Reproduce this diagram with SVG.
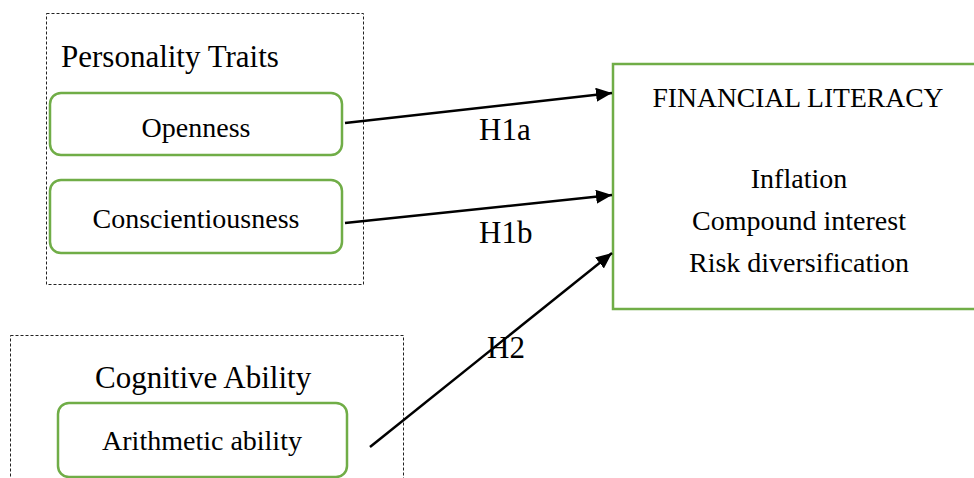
<svg xmlns="http://www.w3.org/2000/svg" width="974" height="478" viewBox="0 0 974 478">
<defs>
<marker id="arr" viewBox="0 0 16 14" refX="16" refY="7" markerWidth="16" markerHeight="14" markerUnits="userSpaceOnUse" orient="auto">
<path d="M0,0 L16,7 L0,14 z" fill="#000"/>
</marker>
<style>
.grp{fill:none;stroke:#222;stroke-width:1;stroke-dasharray:3 2}
.node{fill:#fff;stroke:#70AD47;stroke-width:2.5}
.t{font-family:"Liberation Serif","Times New Roman",serif;fill:#000}
.hdr{font-size:31px}
.in{font-size:28px;text-anchor:middle}
.lbl{font-size:31px}
.conn{stroke:#000;stroke-width:2.5;fill:none;marker-end:url(#arr)}
</style>
</defs>
<rect width="974" height="478" fill="#fff"/>
<g id="personality-traits">
<rect class="grp" x="46.5" y="13.5" width="317" height="271"/>
<text class="t hdr" x="61" y="67">Personality Traits</text>
</g>
<g id="openness">
<rect class="node" x="50" y="93" width="292" height="62" rx="11"/>
<text class="t in" x="196" y="137">Openness</text>
</g>
<g id="conscientiousness">
<rect class="node" x="50" y="180" width="292" height="73" rx="11"/>
<text class="t in" x="196" y="228">Conscientiousness</text>
</g>
<g id="cognitive-ability">
<rect class="grp" x="10.5" y="335.5" width="393" height="160"/>
<text class="t hdr" x="95" y="388">Cognitive Ability</text>
</g>
<g id="arithmetic-ability">
<rect class="node" x="58" y="403" width="289" height="74" rx="11"/>
<text class="t in" x="202" y="450">Arithmetic ability</text>
</g>
<g id="financial-literacy">
<rect class="node" x="613" y="64" width="370" height="245"/>
<text class="t in" x="798" y="107" textLength="291" lengthAdjust="spacingAndGlyphs">FINANCIAL LITERACY</text>
<text class="t in" x="799" y="188">Inflation</text>
<text class="t in" x="799" y="230">Compound interest</text>
<text class="t in" x="799" y="272">Risk diversification</text>
</g>
<g id="connectors">
<line class="conn" x1="345" y1="123" x2="612" y2="93"/>
<line class="conn" x1="345" y1="223" x2="612" y2="195"/>
<line class="conn" x1="370" y1="447" x2="612" y2="253"/>
<text class="t lbl" x="479" y="140">H1a</text>
<text class="t lbl" x="479" y="243">H1b</text>
<text class="t lbl" x="487" y="358">H2</text>
</g>
</svg>
